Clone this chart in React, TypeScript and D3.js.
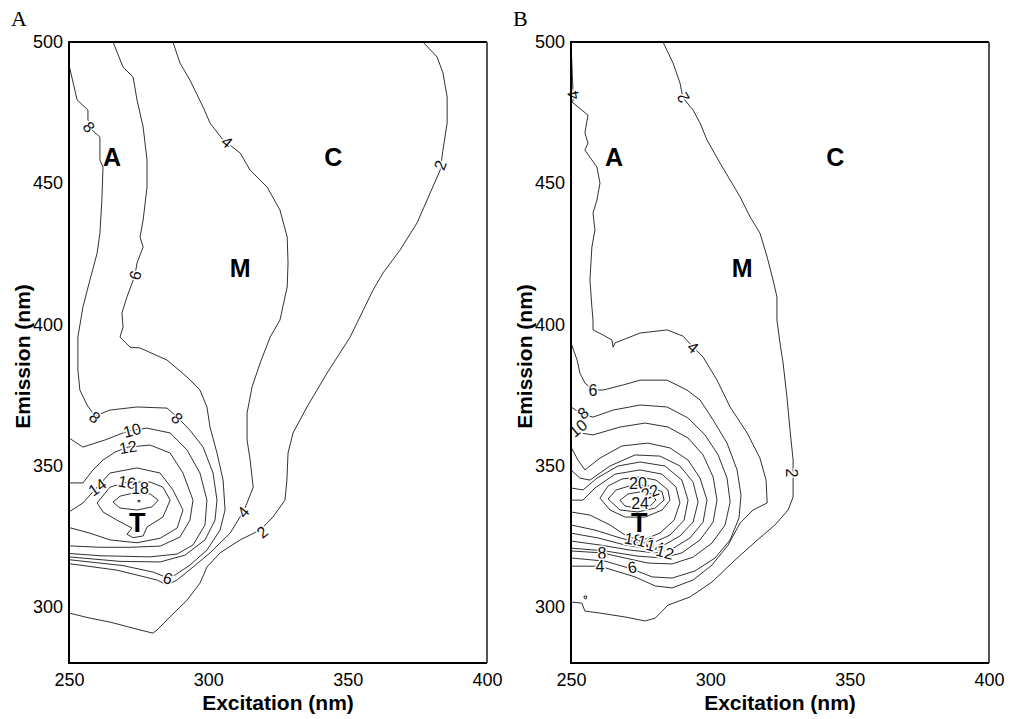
import React, { useEffect, useRef } from 'react';
import * as d3 from 'd3';

type Pt = [number, number];

const excitationTicks = [250, 300, 350, 400];
const emissionTicks = [300, 350, 400, 450, 500];

// ---- Panel A contours: [excitation nm, emission nm] ----
const contourA2: Pt[] = [[377.0, 500], [382.1, 494.7], [384.2, 489.0], [385.7, 480.5], [385.7, 471.3], [384.2, 461.7], [383.2, 454.6], [379.6, 446.5], [374.9, 435.9], [368.8, 426.3], [362.7, 418.2], [359.1, 412.1], [350.9, 395.5], [342.6, 382.7], [335.4, 370.7], [330.4, 361.5], [328.6, 354.4], [328.2, 344.8], [327.5, 337.7], [323.2, 331.7], [318.6, 327.1], [311.4, 323.6], [304.2, 319.0], [299.5, 314.0], [297.0, 308.3], [292.4, 302.3], [286.2, 296.3], [281.6, 291.7], [280.1, 290.6], [275.5, 291.7], [264.7, 294.5], [257.5, 295.9], [250, 297.7]];
const contourA4: Pt[] = [[287.3, 500], [289.8, 492.6], [293.4, 486.5], [298.1, 477.0], [300.6, 471.3], [305.3, 465.3], [311.4, 460.7], [315.0, 454.6], [321.1, 448.6], [325.7, 440.5], [328.3, 430.9], [328.6, 421.7], [328.3, 413.2], [325.7, 401.5], [322.2, 395.5], [318.6, 386.3], [315.7, 377.8], [313.9, 368.6], [313.9, 359.0], [315.0, 351.9], [316.1, 342.3], [313.9, 336.7], [312.5, 333.5], [307.8, 326.0], [300.6, 319.0], [294.5, 314.0], [288.8, 309.4], [285.2, 307.6], [281.6, 309.4], [267.2, 312.9], [250, 315.2]];
const contourA6: Pt[] = [[265.8, 500], [269.4, 491.1], [273.0, 487.6], [274.4, 479.5], [276.6, 469.9], [278.0, 458.2], [278.0, 448.6], [276.6, 436.9], [275.5, 430.9], [276.6, 427.4], [274.4, 421.7], [273.7, 417.4], [270.8, 409.7], [269.0, 404.0], [269.4, 399.0], [268.3, 395.5], [271.9, 391.9], [275.5, 391.6], [285.2, 387.3], [292.4, 381.3], [297.0, 376.7], [299.5, 370.7], [300.6, 363.6], [303.1, 354.4], [305.3, 344.8], [306.0, 334.2], [304.2, 327.1], [299.5, 320.0], [293.4, 314.7], [288.1, 311.2], [285.5, 310.1], [280.2, 312.2], [269.4, 314.5], [250, 316.6]];
const contourA8: Pt[] = [[250, 491.9], [252.9, 479.5], [256.8, 475.9], [256.8, 472.4], [258.3, 468.8], [261.1, 466.3], [261.1, 458.2], [262.2, 455.7], [261.8, 444.0], [261.1, 432.3], [260.1, 425.2], [257.5, 415.7], [255.0, 406.1], [253.2, 395.5], [253.2, 383.8], [253.9, 376.7], [256.5, 371.4], [259.3, 367.5], [264.7, 369.6], [274.4, 370.7], [285.2, 370.3], [288.8, 367.1], [293.4, 362.5], [298.1, 356.5], [301.7, 347.3], [303.1, 337.7], [302.4, 330.6], [298.8, 323.6], [291.6, 318.2], [282.7, 315.8], [268.3, 316.0], [250, 317.6]];
const contourA10: Pt[] = [[250, 359.7], [255.0, 356.5], [262.9, 359.0], [269.4, 361.5], [272.6, 362.5], [278.0, 363.2], [286.3, 361.5], [292.4, 355.4], [297.0, 347.3], [299.5, 337.7], [298.8, 328.9], [294.5, 321.8], [288.8, 318.6], [279.1, 317.6], [261.1, 318.0], [250, 318.8]];
const contourA12: Pt[] = [[250, 343.8], [255.0, 343.8], [258.6, 348.4], [262.2, 351.9], [266.5, 354.7], [271.2, 356.5], [279.1, 357.2], [286.3, 354.4], [290.9, 347.3], [294.5, 337.7], [293.4, 330.6], [289.8, 324.6], [282.7, 321.4], [271.9, 321.0], [261.1, 321.0], [250, 321.5]];
const contourA14: Pt[] = [[250, 333.5], [255.0, 336.7], [260.1, 342.3], [264.7, 347.3], [274.4, 349.1], [282.7, 347.3], [287.3, 341.3], [290.9, 334.2], [288.8, 327.8], [282.7, 324.2], [274.4, 322.6], [264.7, 323.6], [257.5, 326.0], [250, 328.0]];
const contourA16: Pt[] = [[260.1, 336.7], [264.7, 342.3], [270.8, 344.1], [279.1, 344.1], [283.7, 342.3], [286.3, 337.7], [283.7, 331.7], [278.0, 328.2], [276.6, 325.0], [273.0, 324.4], [270.8, 325.6], [272.6, 327.8], [267.2, 330.6], [262.2, 333.5], [260.1, 336.7]];
const contourA18: Pt[] = [[265.8, 337.0], [268.3, 339.1], [273.0, 340.2], [279.1, 339.9], [282.0, 337.7], [279.8, 335.3], [274.4, 334.2], [268.3, 334.9], [265.8, 337.0]];
const contourA18dot: Pt[] = [[274.7, 337.6], [275.5, 337.6], [275.4, 337.1], [274.8, 337.1], [274.7, 337.6]];
const contoursA = [contourA2, contourA4, contourA6, contourA8, contourA10, contourA12, contourA14, contourA16, contourA18, contourA18dot];

const labelTextA = ['8', '6', '4', '2', '8', '8', '10', '12', '14', '16', '18', '6', '4', '2'];
const labelPosA: Pt[] = [[257.2, 469.9], [273.7, 417.4], [306.7, 464.6], [383.2, 456.4], [259.3, 367.1], [288.8, 366.8], [272.6, 362.5], [271.2, 356.5], [260.1, 342.3], [270.8, 344.1], [275.5, 342.0], [285.5, 310.1], [312.5, 333.5], [319.3, 326.4]];
const labelRotA = [50, -75, 40, -70, 40, 45, -15, -10, -35, 10, 0, 20, -50, -40];

// ---- Panel B contours ----
const contourB2: Pt[] = [[283.0, 500], [286.6, 492.6], [289.1, 485.5], [290.2, 480.2], [293.8, 475.9], [296.3, 471.3], [298.8, 465.3], [303.5, 457.1], [307.1, 451.1], [310.7, 445.1], [314.3, 438.0], [317.8, 432.3], [320.4, 423.8], [322.5, 415.7], [323.9, 409.7], [323.9, 401.5], [325.0, 393.4], [326.1, 386.3], [327.5, 374.2], [328.6, 362.5], [329.7, 351.9], [329.7, 338.8], [327.9, 334.2], [323.2, 328.9], [316.1, 322.9], [308.9, 316.5], [300.6, 308.7], [292.7, 303.4], [284.8, 300.5], [280.2, 295.9], [276.6, 294.9], [269.4, 296.3], [260.4, 297.7], [255.0, 298.4], [253.9, 301.2], [250, 301.6]];
const contourB2dot: Pt[] = [[254.7, 303.7], [255.7, 303.7], [255.4, 302.7], [254.7, 303.0], [254.7, 303.7]];
const contourB4: Pt[] = [[250, 500], [250.4, 490.1], [250.7, 483.0], [251.4, 481.2], [250.4, 478.7], [256.1, 474.1], [255.0, 467.8], [256.1, 464.2], [255.0, 461.7], [259.3, 455.7], [260.4, 450.0], [259.3, 444.0], [257.9, 439.4], [258.6, 433.4], [257.5, 427.4], [256.8, 415.7], [257.5, 406.1], [257.9, 401.5], [257.9, 398.0], [261.5, 396.2], [264.7, 394.4], [265.1, 391.9], [265.8, 393.4], [274.8, 396.9], [284.5, 398.0], [290.2, 395.8], [293.8, 391.9], [297.4, 388.4], [302.4, 380.2], [307.1, 370.7], [313.2, 361.5], [317.8, 352.6], [320.0, 344.8], [320.4, 336.7], [315.3, 334.2], [310.7, 329.6], [306.4, 321.8], [300.6, 314.7], [293.8, 309.4], [286.3, 306.6], [280.2, 307.3], [273.0, 310.5], [260.4, 314.3], [250, 314.3]];
const contourB6: Pt[] = [[250, 393.4], [252.2, 387.3], [253.2, 382.7], [255.0, 379.2], [257.9, 376.7], [261.5, 376.7], [268.7, 378.5], [274.8, 380.2], [284.5, 380.2], [291.6, 376.7], [296.3, 373.2], [301.0, 366.1], [306.0, 357.9], [309.6, 348.4], [311.0, 339.5], [310.3, 331.4], [307.1, 323.6], [301.7, 317.2], [294.5, 312.6], [286.3, 310.1], [279.1, 310.5], [271.9, 313.3], [262.2, 316.1], [250, 317.2]];
const contourB8: Pt[] = [[250, 370.7], [253.9, 368.2], [257.9, 367.1], [265.1, 369.6], [274.8, 371.4], [284.5, 370.7], [292.0, 366.8], [298.1, 360.8], [302.8, 353.7], [306.0, 345.5], [307.1, 337.0], [305.3, 328.9], [300.6, 322.5], [293.8, 317.5], [286.3, 315.1], [277.6, 315.4], [269.4, 317.2], [261.1, 319.0], [250, 319.7]];
const contourB10: Pt[] = [[250, 363.2], [253.2, 361.5], [257.9, 360.8], [267.6, 363.6], [276.6, 365.0], [284.8, 363.6], [292.0, 359.7], [297.4, 353.7], [301.0, 345.9], [302.4, 337.7], [301.0, 329.9], [296.3, 323.6], [289.8, 319.0], [282.7, 317.2], [273.7, 317.9], [262.2, 319.7], [250, 320.7]];
const contourB12: Pt[] = [[250, 356.5], [252.5, 351.9], [255.0, 348.4], [260.4, 352.6], [268.3, 356.9], [277.6, 357.9], [285.5, 356.2], [292.0, 351.9], [296.3, 345.5], [298.8, 337.7], [297.4, 329.9], [292.7, 324.3], [286.3, 320.4], [280.2, 319.0], [271.2, 320.0], [260.4, 321.8], [250, 323.2]];
const contourB14: Pt[] = [[250, 348.4], [253.2, 345.5], [256.8, 344.8], [264.0, 349.8], [273.0, 353.7], [281.9, 353.3], [289.1, 349.8], [293.8, 344.1], [295.6, 337.0], [293.8, 329.9], [289.1, 325.0], [283.4, 321.8], [277.6, 320.4], [269.4, 321.8], [259.7, 324.3], [250, 326.0]];
const contourB16: Pt[] = [[250, 342.0], [254.3, 341.3], [259.3, 345.5], [266.9, 349.8], [274.8, 351.2], [283.7, 349.8], [289.8, 344.8], [292.0, 337.7], [290.6, 330.6], [285.5, 325.3], [280.2, 322.9], [274.8, 322.5], [267.6, 324.3], [258.6, 327.1], [250, 328.9]];
const contourB18: Pt[] = [[250, 337.7], [254.3, 337.7], [258.6, 342.0], [265.8, 346.9], [274.8, 348.4], [282.7, 346.9], [287.7, 342.3], [289.1, 336.7], [287.0, 330.6], [281.9, 326.0], [275.8, 323.6], [270.5, 324.6], [264.0, 328.9], [256.8, 332.4], [250, 333.5]];
const contourB20: Pt[] = [[260.4, 338.4], [263.3, 342.7], [268.3, 345.2], [274.8, 345.9], [280.5, 344.8], [284.8, 341.3], [285.5, 337.7], [282.7, 334.2], [276.6, 331.7], [269.4, 331.7], [264.0, 334.2], [260.4, 338.4]];
const contourB22: Pt[] = [[263.3, 338.1], [266.2, 341.3], [271.9, 343.0], [278.4, 342.7], [282.7, 340.6], [283.4, 337.7], [280.2, 334.9], [274.0, 333.5], [267.6, 334.2], [263.3, 338.1]];
const contourB24: Pt[] = [[267.6, 337.7], [270.5, 339.9], [274.8, 340.6], [279.1, 339.9], [280.5, 337.7], [278.4, 335.6], [273.7, 334.9], [269.4, 335.6], [267.6, 337.7]];
const contoursB = [contourB2, contourB2dot, contourB4, contourB6, contourB8, contourB10, contourB12, contourB14, contourB16, contourB18, contourB20, contourB22, contourB24];

const labelTextB = ['4', '2', '4', '2', '6', '8', '10', '20', '22', '24', '18', '16', '14', '12', '8', '4', '6'];
const labelPosB: Pt[] = [[250.7, 481.2], [290.2, 480.2], [293.8, 391.9], [329.3, 347.3], [257.9, 376.7], [254.3, 368.6], [252.5, 363.2], [274.0, 343.8], [278.4, 340.6], [274.8, 336.7], [272.3, 323.9], [276.9, 322.9], [280.2, 321.4], [283.7, 319.3], [261.1, 319.0], [260.4, 314.3], [271.9, 314.0]];
const labelRotB = [-100, -120, 40, 90, 0, -40, -40, 0, -20, 0, 10, 15, 15, 15, 0, 0, -10];

// peak regions
const regionNames = ['A', 'M', 'C', 'T'];
const regionEx = [265.4, 311.4, 344.8, 274.5];
const regionEm = [459.3, 419.9, 459.3, 330.0];

const PLOT_TOP = 42;
const PLOT_BOTTOM = 663;
const PLOT_W = 418;
const SANS = '"Liberation Sans", Arial, Helvetica, sans-serif';

interface PanelProps {
  letter: string;
  left: number;
  contours: Pt[][];
  labelText: string[];
  labelPos: Pt[];
  labelRot: number[];
}

function Panel({ letter, left, contours, labelText, labelPos, labelRot }: PanelProps) {
  const gRef = useRef<SVGGElement>(null);

  useEffect(() => {
    if (!gRef.current) return;
    const g = d3.select(gRef.current);
    g.selectAll('*').remove();

    const x = d3.scaleLinear().domain([250, 400]).range([left, left + PLOT_W]);
    const y = d3.scaleLinear().domain([280, 500]).range([PLOT_BOTTOM, PLOT_TOP]);

    const clipId = `clip-${letter}`;
    g.append('clipPath').attr('id', clipId)
      .append('rect')
      .attr('x', left).attr('y', PLOT_TOP)
      .attr('width', PLOT_W).attr('height', PLOT_BOTTOM - PLOT_TOP);

    const line = d3.line<Pt>().x(d => x(d[0])).y(d => y(d[1]));

    // contour lines
    g.append('g')
      .attr('clip-path', `url(#${clipId})`)
      .selectAll('path')
      .data(contours)
      .enter()
      .append('path')
      .attr('d', d => line(d) as string)
      .attr('fill', 'none')
      .attr('stroke', '#1a1a1a')
      .attr('stroke-width', 0.9)
      .attr('stroke-linejoin', 'round');

    // inline contour labels
    g.append('g')
      .selectAll('text')
      .data(labelText)
      .enter()
      .append('text')
      .attr('transform', (d, i) => `translate(${x(labelPos[i][0])},${y(labelPos[i][1])}) rotate(${labelRot[i]})`)
      .attr('text-anchor', 'middle')
      .attr('dy', '0.36em')
      .attr('font-family', SANS)
      .attr('font-size', 16)
      .attr('fill', '#111')
      .attr('stroke', '#fff')
      .attr('stroke-width', 3)
      .attr('paint-order', 'stroke')
      .text(d => d);

    // peak letters
    g.append('g')
      .selectAll('text')
      .data(regionNames)
      .enter()
      .append('text')
      .attr('x', (d, i) => x(regionEx[i]))
      .attr('y', (d, i) => y(regionEm[i]))
      .attr('dy', '0.36em')
      .attr('text-anchor', 'middle')
      .attr('font-family', SANS)
      .attr('font-weight', 'bold')
      .attr('font-size', d => (d === 'T' ? 27 : 25))
      .attr('fill', '#000')
      .text(d => d);

    // axes
    const xAxis = g.append('g')
      .attr('transform', `translate(0,${PLOT_BOTTOM})`)
      .call(d3.axisBottom(x).tickValues(excitationTicks).tickSize(0).tickPadding(10));
    const yAxis = g.append('g')
      .attr('transform', `translate(${left},0)`)
      .call(d3.axisLeft(y).tickValues(emissionTicks).tickSize(0).tickPadding(6));
    [xAxis, yAxis].forEach(a => {
      a.select('.domain').remove();
      a.selectAll('text')
        .attr('font-family', SANS)
        .attr('font-size', 18)
        .attr('fill', '#000');
    });

    // frame
    const frame = g.append('g').attr('fill', 'none');
    frame.append('line').attr('x1', left).attr('x2', left + PLOT_W)
      .attr('y1', PLOT_TOP).attr('y2', PLOT_TOP).attr('stroke', '#000').attr('stroke-width', 2);
    frame.append('line').attr('x1', left + PLOT_W).attr('x2', left + PLOT_W)
      .attr('y1', PLOT_TOP).attr('y2', PLOT_BOTTOM).attr('stroke', '#555').attr('stroke-width', 2);
    frame.append('line').attr('x1', left).attr('x2', left + PLOT_W)
      .attr('y1', PLOT_BOTTOM).attr('y2', PLOT_BOTTOM).attr('stroke', '#000').attr('stroke-width', 2);
    frame.append('line').attr('x1', left).attr('x2', left)
      .attr('y1', PLOT_TOP - 1).attr('y2', PLOT_BOTTOM + 1).attr('stroke', '#000').attr('stroke-width', 2);

    // axis titles
    g.append('text')
      .attr('x', left + PLOT_W / 2)
      .attr('y', 710)
      .attr('text-anchor', 'middle')
      .attr('font-family', SANS)
      .attr('font-weight', 'bold')
      .attr('font-size', 21)
      .text('Excitation (nm)');

    g.append('text')
      .attr('transform', `translate(${left - 47},${(PLOT_TOP + PLOT_BOTTOM) / 2 + 4}) rotate(-90)`)
      .attr('text-anchor', 'middle')
      .attr('dy', '0.36em')
      .attr('font-family', SANS)
      .attr('font-weight', 'bold')
      .attr('font-size', 21)
      .text('Emission (nm)');

    // panel letter
    g.append('text')
      .attr('x', left - 58)
      .attr('y', 26)
      .attr('font-family', '"Liberation Serif", "Times New Roman", serif')
      .attr('font-size', 22)
      .text(letter);
  }, [letter, left, contours, labelText, labelPos, labelRot]);

  return <g ref={gRef} />;
}

export default function App() {
  return (
    <svg
      width={1011}
      height={719}
      style={{ position: 'absolute', left: 0, top: 0, background: '#fff' }}
    >
      <rect width={1011} height={719} fill="#fff" />
      <Panel letter="A" left={69} contours={contoursA} labelText={labelTextA} labelPos={labelPosA} labelRot={labelRotA} />
      <Panel letter="B" left={571} contours={contoursB} labelText={labelTextB} labelPos={labelPosB} labelRot={labelRotB} />
    </svg>
  );
}
